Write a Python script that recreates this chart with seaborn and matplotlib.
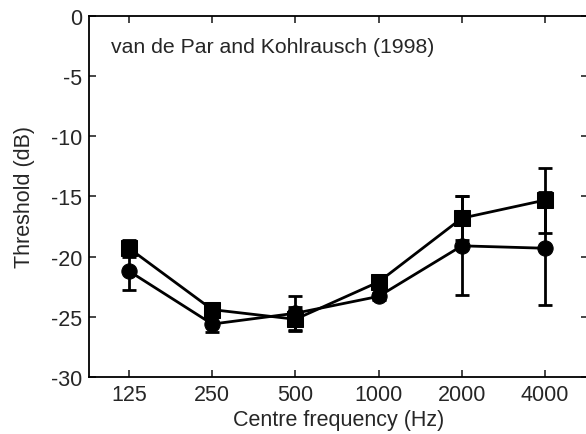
import numpy as np
import pandas as pd
import matplotlib
matplotlib.use("Agg")
import matplotlib.pyplot as plt
import seaborn as sns

# data
freqs = ["125", "250", "500", "1000", "2000", "4000"]
square_mean = [-19.3, -24.4, -25.2, -22.1, -16.8, -15.3]
square_err = [0.7, 0.3, 1.0, 0.3, 1.8, 2.7]
circle_mean = [-21.2, -25.6, -24.7, -23.3, -19.1, -19.3]
circle_err = [1.6, 0.7, 1.4, 0.3, 4.1, 4.7]

sns.set_style("ticks")
plt.rcParams["font.family"] = ["Liberation Sans", "DejaVu Sans"]
plt.rcParams["axes.unicode_minus"] = False

df = pd.DataFrame({
    "pos": np.arange(len(freqs)).tolist() * 2,
    "threshold": square_mean + circle_mean,
    "err": square_err + circle_err,
    "series": ["square"] * len(freqs) + ["circle"] * len(freqs),
})

fig = plt.figure(figsize=(5.86, 4.35), dpi=100)
ax = fig.add_axes([0.152, 0.131, 0.852, 0.830])

for name in ["square", "circle"]:
    sub = df[df["series"] == name]
    ax.errorbar(sub["pos"], sub["threshold"], yerr=sub["err"], fmt="none",
                ecolor="black", elinewidth=2, capsize=5, capthick=2, zorder=2)

sns.lineplot(data=df, x="pos", y="threshold", style="series",
             markers={"square": "s", "circle": "o"}, dashes=False,
             color="black", linewidth=2, markersize=11,
             markeredgecolor="black", legend=False, ax=ax, zorder=3)

ax.set_xlim(-0.48, 5.52)
ax.set_ylim(-30, 0)
ax.set_xticks(range(len(freqs)))
ax.set_xticklabels(freqs)
ax.set_yticks(np.arange(-30, 1, 5))
ax.tick_params(direction="in", length=5, width=1.2, labelsize=15.5,
               top=True, right=True, pad=5)
for s in ax.spines.values():
    s.set_linewidth(1.3)
    s.set_color("black")

ax.set_xlabel("Centre frequency (Hz)", fontsize=15.5, labelpad=3)
ax.set_ylabel("Threshold (dB)", fontsize=15.5, labelpad=11)
ax.text(0.043, 0.915, "van de Par and Kohlrausch (1998)", transform=ax.transAxes,
        fontsize=15.3, va="center", ha="left")

fig.savefig("out.png", dpi=100)
